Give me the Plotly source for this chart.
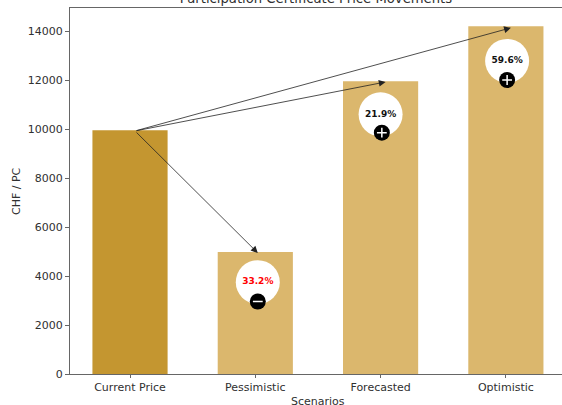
import plotly.graph_objects as go

scenarios = ["Current Price", "Pessimistic", "Forecasted", "Optimistic"]
positions = [0, 1, 2, 3]
prices = [9950, 4980, 11950, 14200]
bar_colors = ["#C49630", "#DBB76D", "#DBB76D", "#DBB76D"]

# Change badges for the three scenarios
badge_x = [1.02, 2.0, 3.01]
badge_y = [3750, 10600, 12780]
badge_labels = ["33.2%", "21.9%", "59.6%"]
badge_text_colors = ["#FF0000", "#111111", "#111111"]
sign_x = [1.02, 2.01, 3.01]
sign_y = [2960, 9850, 12000]
sign_symbols = ["line-ew", "cross-thin", "cross-thin"]

# Arrows from the current price to each scenario
arrow_start = (0.04, 9920)
arrow_end_x = [1.02, 2.04, 3.04]
arrow_end_y = [4940, 11920, 14130]

FONT = "DejaVu Sans"
AXIS_COLOR = "#666666"
TEXT_COLOR = "#303030"

fig = go.Figure()
fig.add_trace(go.Bar(x=positions, y=prices, width=0.6, marker=dict(color=bar_colors, line_width=0)))
fig.add_trace(go.Scatter(
    x=badge_x, y=badge_y, mode="markers",
    marker=dict(size=44, color="white", line_width=0),
))
fig.add_trace(go.Scatter(
    x=sign_x, y=sign_y, mode="markers",
    marker=dict(size=16, color="black", line_width=0),
))
fig.add_trace(go.Scatter(
    x=sign_x, y=sign_y, mode="markers",
    marker=dict(size=7, symbol=sign_symbols, color="white", line=dict(color="white", width=1.5)),
))
fig.add_trace(go.Scatter(
    x=badge_x, y=badge_y, mode="text", text=badge_labels,
    textposition="middle center",
    textfont=dict(family=FONT, size=9, color=badge_text_colors, weight="bold"),
))

for end_x, end_y in zip(arrow_end_x, arrow_end_y):
    fig.add_annotation(
        x=end_x, y=end_y, ax=arrow_start[0], ay=arrow_start[1],
        xref="x", yref="y", axref="x", ayref="y", text="",
        showarrow=True, arrowhead=2, arrowsize=1.7, arrowwidth=0.8, arrowcolor="#222222",
    )

# Axis titles, placed just outside the tick labels
fig.add_annotation(
    text="Scenarios", xref="paper", yref="paper", x=(318 - 70) / 492, y=0,
    yshift=-27, xanchor="center", yanchor="middle", showarrow=False,
    font=dict(family=FONT, size=11, color=TEXT_COLOR),
)
fig.add_annotation(
    text="CHF / PC", xref="paper", yref="paper", x=0, y=0.5,
    xshift=-54, xanchor="center", yanchor="middle", textangle=-90, showarrow=False,
    font=dict(family=FONT, size=11, color=TEXT_COLOR),
)

fig.update_layout(
    width=562, height=405,
    margin=dict(l=70, r=0, t=8, b=31, autoexpand=False),
    paper_bgcolor="white", plot_bgcolor="white",
    showlegend=False,
    font=dict(family=FONT, size=11, color=TEXT_COLOR),
    title=dict(
        text="Participation Certificate Price Movements",
        font=dict(family=FONT, size=13.2, color=TEXT_COLOR),
        x=316 / 562, xanchor="center", xref="container",
        y=1 - 3 / 405, yanchor="bottom", yref="container",
        automargin=False,
    ),
)
fig.update_xaxes(
    automargin=False,
    range=[-0.479, 3.448], tickmode="array", tickvals=positions, ticktext=scenarios,
    showgrid=False, zeroline=False, showline=True, linecolor=AXIS_COLOR, linewidth=1.3, mirror=True,
    ticks="outside", ticklen=3, tickwidth=1, tickcolor=AXIS_COLOR,
)
fig.update_yaxes(
    automargin=False,
    range=[0, 14940], tickmode="array", tickvals=[0, 2000, 4000, 6000, 8000, 10000, 12000, 14000],
    showgrid=False, zeroline=False, showline=True, linecolor=AXIS_COLOR, linewidth=1.3,
    ticks="outside", ticklen=4, tickwidth=1, tickcolor=AXIS_COLOR, tickformat="d",
)

fig.write_html("out.html")
